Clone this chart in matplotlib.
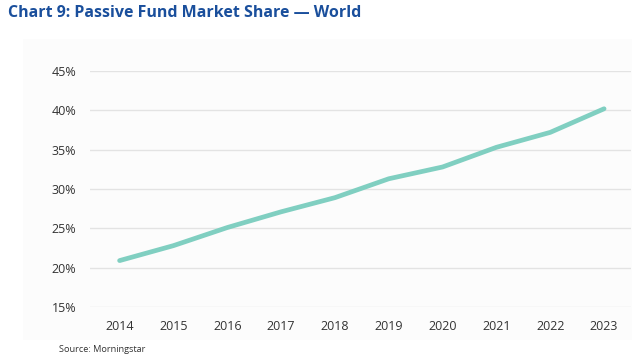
import matplotlib
matplotlib.use("Agg")
import matplotlib.pyplot as plt
from matplotlib.ticker import FuncFormatter

years = [2014, 2015, 2016, 2017, 2018, 2019, 2020, 2021, 2022, 2023]
share = [20.9, 22.8, 25.1, 27.1, 28.9, 31.3, 32.8, 35.3, 37.2, 40.2]
y_ticks = [15, 20, 25, 30, 35, 40, 45]

plt.rcParams['font.family'] = ['Open Sans', 'DejaVu Sans']

fig = plt.figure(figsize=(6.42, 3.61), dpi=100)
fig.patch.set_facecolor('white')

bg = fig.add_axes([23/642, 1 - 340/361, (632-23)/642, (340-39)/361], zorder=0)
bg.set_facecolor('#fcfcfc')
bg.set_xticks([]); bg.set_yticks([])
for s in bg.spines.values():
    s.set_visible(False)

ax = fig.add_axes([90/642, 1 - 307/361, (631-90)/642, (307-71)/361], zorder=1)
ax.set_facecolor('none')
ax.plot(years, share, color='#80cfc1', linewidth=3.4, solid_capstyle='round', zorder=3)
ax.set_ylim(15, 45)
ax.set_xlim(2013.45, 2023.5)
ax.set_yticks(y_ticks)
ax.yaxis.set_major_formatter(FuncFormatter(lambda v, p: f"{int(v)}%"))
ax.set_xticks(years)
ax.grid(axis='y', color='#e3e3e3', linewidth=1)
ax.set_axisbelow(True)
for s in ax.spines.values():
    s.set_visible(False)
ax.tick_params(length=0, labelsize=9, colors='#333333')
ax.tick_params(axis='y', pad=10)
ax.tick_params(axis='x', pad=9)

fig.text(8/642, 1 - 13/361, "Chart 9: Passive Fund Market Share \u2014 World",
         fontsize=11.5, fontweight='bold', color='#1a4f9c', va='center', ha='left')
fig.text(59/642, 1 - 349/361, "Source: Morningstar", fontsize=6.6, color='#333333',
         va='center', ha='left')

fig.savefig("out.png", dpi=100)
